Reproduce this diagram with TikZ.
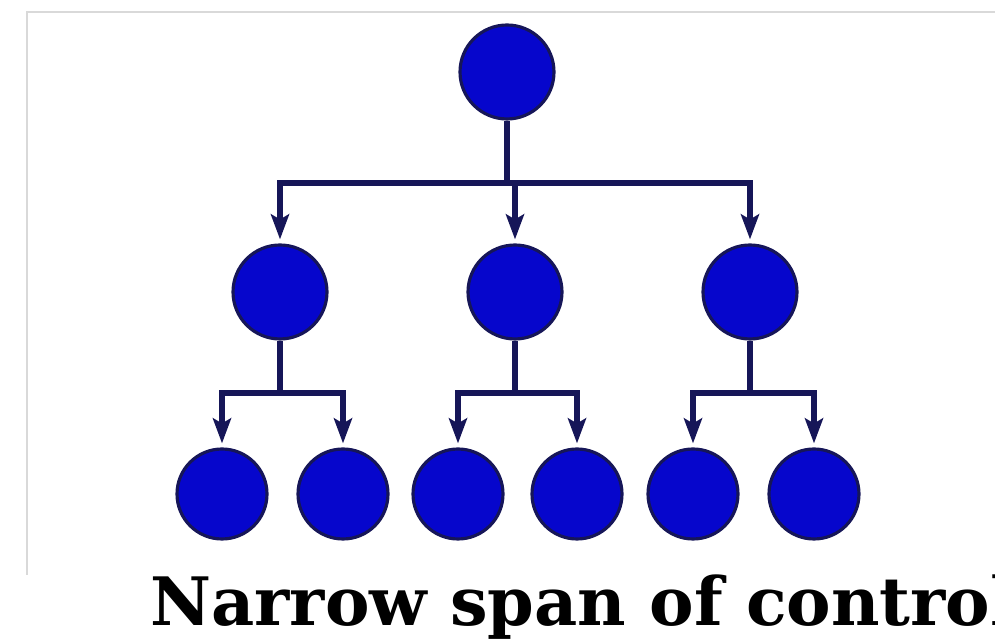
\documentclass[tikz,border=0pt]{standalone}
\usepackage{fontspec}
\newfontfamily\captionfont{DejaVu Serif}
\usepackage{tikz}
\usetikzlibrary{arrows.meta}
\definecolor{dblue}{RGB}{6,6,204}
\definecolor{navy}{RGB}{22,22,88}
\tikzstyle{unit}=[circle,fill=dblue,draw=navy,line width=1.8pt,minimum size=1.88cm,inner sep=0pt]
\tikzstyle{small unit}=[unit,minimum size=1.8cm]
\tikzstyle{none}=[inner sep=0pt]
\tikzstyle{simple}=[-,draw=navy,line width=3.2pt]
\tikzstyle{inarrow}=[-{Stealth[length=0.5cm,width=0.36cm,inset=0.1cm]},draw=navy,line width=3.2pt,shorten >=.08cm]
\tikzstyle{frame}=[-,draw=gray!30,line width=1.5pt]
\pgfdeclarelayer{edgelayer}
\pgfdeclarelayer{nodelayer}
\pgfsetlayers{edgelayer,nodelayer,main}
\begin{document}
\begin{tikzpicture}[x=0.02cm,y=-0.02cm]
	\useasboundingbox (0,0) rectangle (995,644);
	\begin{pgfonlayer}{nodelayer}
		\node [style = unit] (top) at (507, 72) {};

		\node [style = unit] (m1) at (280, 292) {};
		\node [style = unit] (m2) at (515, 292) {};
		\node [style = unit] (m3) at (750, 292) {};

		\node [style = small unit] (b1) at (222, 494) {};
		\node [style = small unit] (b2) at (343, 494) {};
		\node [style = small unit] (b3) at (458, 494) {};
		\node [style = small unit] (b4) at (577, 494) {};
		\node [style = small unit] (b5) at (693, 494) {};
		\node [style = small unit] (b6) at (814, 494) {};

		\node [style=none] (j0) at (507, 183) {};
		\node [style=none] (j1) at (280, 393) {};
		\node [style=none] (j2) at (515, 393) {};
		\node [style=none] (j3) at (750, 393) {};

		\node [style=none] (fl) at (27, 575) {};
		\node [style=none] (ftl) at (27, 12) {};
		\node [style=none] (ftr) at (995, 12) {};

		\node [anchor=base west, inner sep=0pt, font=\captionfont\bfseries\fontsize{38}{44}\selectfont] (cap) at (150, 626) {Narrow span of control};
	\end{pgfonlayer}
	\begin{pgfonlayer}{edgelayer}
		\draw [style=frame] (fl.center) to (ftl.center) to (ftr.center);
		\draw [style=simple] (top) to (j0.center);
		\draw [style=inarrow] (j0.center) -| (m1);
		\draw [style=inarrow] (j0.center) -| (m2);
		\draw [style=inarrow] (j0.center) -| (m3);
		\draw [style=simple] (m1) to (j1.center);
		\draw [style=simple] (m2) to (j2.center);
		\draw [style=simple] (m3) to (j3.center);
		\draw [style=inarrow] (j1.center) -| (b1);
		\draw [style=inarrow] (j1.center) -| (b2);
		\draw [style=inarrow] (j2.center) -| (b3);
		\draw [style=inarrow] (j2.center) -| (b4);
		\draw [style=inarrow] (j3.center) -| (b5);
		\draw [style=inarrow] (j3.center) -| (b6);
	\end{pgfonlayer}
\end{tikzpicture}
\end{document}
